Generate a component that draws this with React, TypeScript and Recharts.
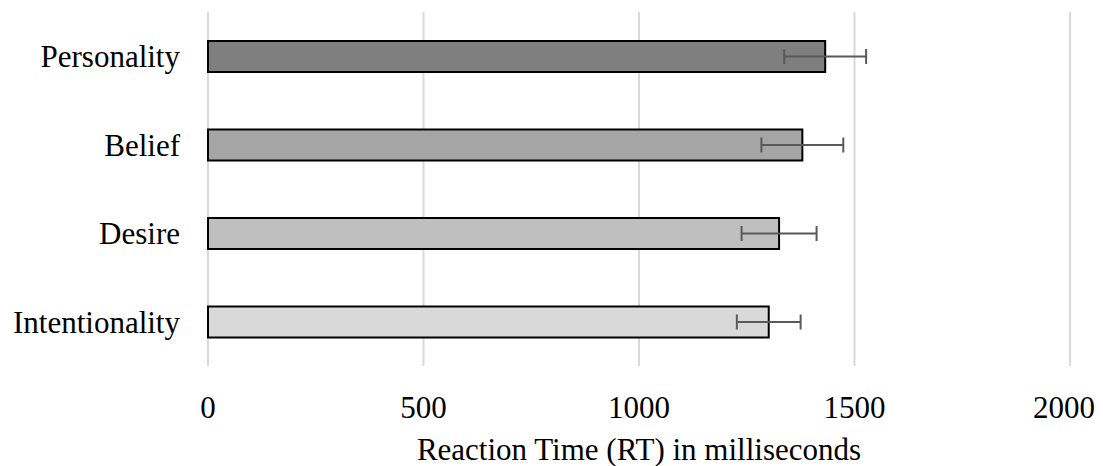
import React from 'react';
import { BarChart, Bar, XAxis, YAxis, CartesianGrid, ErrorBar, Cell } from 'recharts';

const categories = ['Personality', 'Belief', 'Desire', 'Intentionality'];
const meanRT = [1432, 1379, 1325, 1301];
const errorRT = [95, 95, 87, 74];
const xTicks = [0, 500, 1000, 1500, 2000];

const palette = ['#7f7f7f', '#a5a5a5', '#bfbfbf', '#d9d9d9'];

const data = categories.map((name, i) => ({ name, rt: meanRT[i], err: errorRT[i] }));

const FONT = 'Liberation Serif, Times New Roman, serif';

export default function App() {
  return (
    <BarChart
      width={1087}
      height={458}
      data={data}
      layout="vertical"
      margin={{ top: 4, right: 25, bottom: 0, left: 0 }}
      barSize={31}
    >
      <CartesianGrid horizontal={false} vertical={true} stroke="#d9d9d9" strokeWidth={2} />
      <XAxis
        type="number"
        domain={[0, 2000]}
        ticks={xTicks}
        axisLine={false}
        tickLine={false}
        height={100}
        tickMargin={24}
        tick={{ fontSize: 31, fontFamily: FONT, fill: '#000' }}
        label={{
          value: 'Reaction Time (RT) in milliseconds',
          position: 'insideBottom',
          offset: 6,
          fontSize: 31,
          fontFamily: FONT,
          fill: '#000',
        }}
      />
      <YAxis
        type="category"
        dataKey="name"
        width={200}
        axisLine={false}
        tickLine={false}
        tickMargin={22}
        interval={0}
        tick={{ fontSize: 31, fontFamily: FONT, fill: '#000' }}
      />
      <Bar dataKey="rt" stroke="#000" strokeWidth={2} isAnimationActive={false}>
        {data.map((d, i) => (
          <Cell key={d.name} fill={palette[i]} />
        ))}
        <ErrorBar dataKey="err" direction="x" width={7.5} stroke="#595959" strokeWidth={2} />
      </Bar>
    </BarChart>
  );
}
